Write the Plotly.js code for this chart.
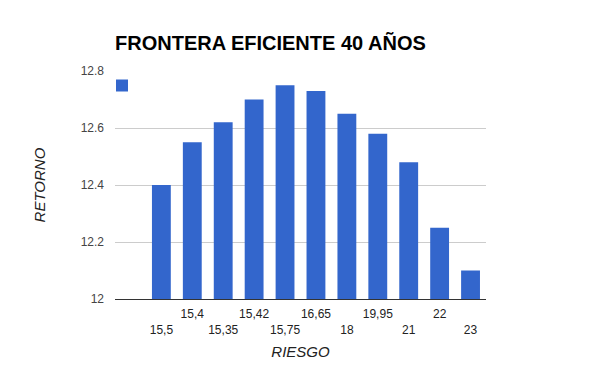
<!DOCTYPE html>
<html>
<head>
<meta charset="utf-8">
<script src="https://cdn.plot.ly/plotly-3.0.1.min.js"></script>
<style>html,body{margin:0;padding:0;background:#fff;}#chart{width:600px;height:371px;}</style>
</head>
<body>
<div id="chart"></div>
<script>
// Categories (risk) and series values (return)
var riesgo = ["15,5", "15,4", "15,35", "15,42", "15,75", "16,65", "18", "19,95", "21", "22", "23"];
var retorno = [12.4, 12.55, 12.62, 12.7, 12.75, 12.73, 12.65, 12.58, 12.48, 12.25, 12.1];
var yTicks = [12, 12.2, 12.4, 12.6, 12.8];
var yTickLabels = ["12", "12.2", "12.4", "12.6", "12.8"];

// Category slots: slot 0 is empty, bars occupy slots 1..n
var xPos = riesgo.map(function (_, i) { return i + 1; });
// Alternate labels between two rows (lower row for even index)
var tickText = riesgo.map(function (t, i) { return i % 2 === 0 ? "&nbsp;<br>" + t : t; });

var trace = {
  type: "bar",
  x: xPos,
  y: retorno,
  name: "",
  showlegend: true,
  marker: { color: "#3366cc" },
  hoverinfo: "x+y"
};

var font = "Arial, 'Liberation Sans', sans-serif";

var layout = {
  width: 600,
  height: 371,
  margin: { l: 115, r: 114, t: 71, b: 72 },
  paper_bgcolor: "#ffffff",
  plot_bgcolor: "#ffffff",
  bargap: 0.39,
  title: {
    text: "<b>FRONTERA EFICIENTE 40 AÑOS</b>",
    font: { family: font, size: 20, color: "#000000" },
    x: 115 / 600, xanchor: "left", xref: "container",
    y: 1 - 43 / 371, yanchor: "middle", yref: "container"
  },
  xaxis: {
    range: [-0.5, riesgo.length + 0.5],
    tickmode: "array",
    tickvals: xPos,
    ticktext: tickText,
    tickangle: 0,
    ticks: "",
    showgrid: false,
    zeroline: false,
    showline: true,
    linecolor: "#333333",
    linewidth: 1,
    ticklabelstandoff: 4,
    tickfont: { family: font, size: 12, color: "#222222" },
    title: { text: "<i>RIESGO</i>", font: { family: font, size: 15, color: "#222222" }, standoff: 10 },
    fixedrange: true
  },
  yaxis: {
    range: [12, 12.8],
    tickmode: "array",
    tickvals: yTicks,
    ticktext: yTickLabels,
    ticks: "",
    showgrid: true,
    gridcolor: "#cccccc",
    zeroline: false,
    showline: false,
    tickfont: { family: font, size: 12, color: "#444444" },
    ticklabelstandoff: 10,
    title: { text: "<i>RETORNO</i>", font: { family: font, size: 15, color: "#222222" }, standoff: 31 },
    fixedrange: true
  },
  legend: {
    x: -0.035, xanchor: "left",
    y: 1.0, yanchor: "top",
    bgcolor: "rgba(0,0,0,0)",
    font: { family: font, size: 11 },
    itemwidth: 30
  }
};

Plotly.newPlot("chart", [trace], layout, { displayModeBar: false, staticPlot: true });
</script>
</body>
</html>
